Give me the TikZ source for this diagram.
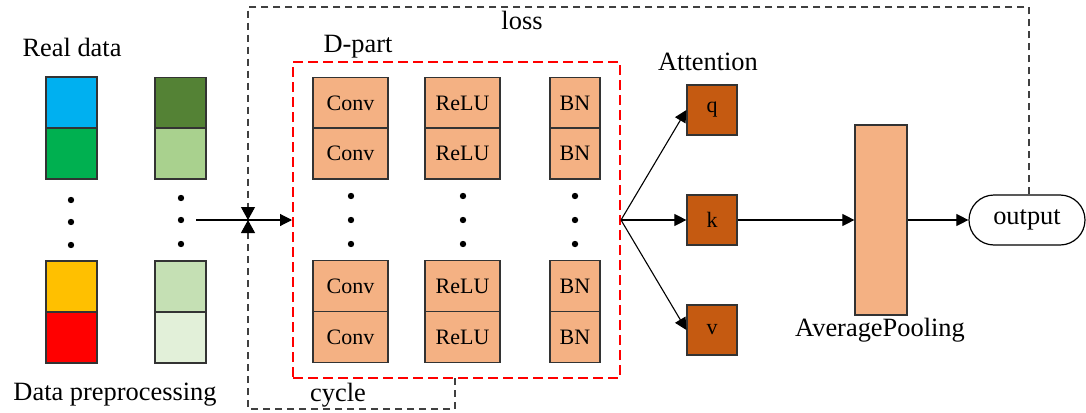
\documentclass[tikz,border=0pt]{standalone}
\usepackage{fontspec}
\setmainfont{Liberation Serif}
\usetikzlibrary{arrows.meta,calc}
\definecolor{cblue}{HTML}{00B0F0}
\definecolor{cgreen}{HTML}{00B050}
\definecolor{cyellow}{HTML}{FFC000}
\definecolor{cred}{HTML}{FF0000}
\definecolor{dgreen}{HTML}{548235}
\definecolor{lgreenA}{HTML}{A9D18E}
\definecolor{lgreenB}{HTML}{C5E0B4}
\definecolor{lgreenC}{HTML}{E2F0D9}
\definecolor{peach}{HTML}{F4B183}
\definecolor{rust}{HTML}{C55A11}
\begin{document}
\begin{tikzpicture}[x=0.5pt,y=-0.5pt,
  cell/.style={draw=black!80,line width=0.6pt,inner sep=0pt,minimum width=25.5pt,minimum height=25.5pt},
  layer/.style={draw=black!80,line width=0.6pt,inner sep=0pt,fill=peach,minimum height=25.5pt,font=\fontsize{11}{13}\selectfont},
  att/.style={draw=black!80,line width=0.6pt,inner sep=0pt,fill=rust,minimum width=25pt,minimum height=25pt,font=\fontsize{11}{13}\selectfont},
  dotn/.style={circle,fill=black,inner sep=0pt,minimum size=3.2pt},
  lab/.style={font=\fontsize{13.2}{15}\selectfont,inner sep=0pt},
  arr/.style={-{Triangle[length=6pt,width=6pt]},line width=0.55pt},
  lossline/.style={draw=black!75,line width=0.55pt,dash pattern=on 3.5pt off 2.5pt},
  jtip/.style={-{Triangle[length=6.5pt,width=7pt,color=black]}}
]
\useasboundingbox (0,0) rectangle (1086,412);

% labels
\node[lab] (treal) at (72,47) {Real data};
\node[lab] (tpre) at (115,395) {Data preprocessing};
\node[lab] (tdpart) at (358,47) {D-part};
\node[lab] (tatt) at (708,62) {Attention};
\node[lab] (tloss) at (522,20) {loss};
\node[lab] (tcycle) at (338,395) {cycle};
\node[lab] (tavg) at (880,330) {AveragePooling};

% data columns
\node[cell,fill=cblue] (a1) at (71.5,102.5) {};
\node[cell,fill=cgreen] (a2) at (71.5,153.5) {};
\node[dotn] (ad1) at (71,200) {};
\node[dotn] (ad2) at (71,222) {};
\node[dotn] (ad3) at (71,245) {};
\node[cell,fill=cyellow] (a3) at (71.5,286.5) {};
\node[cell,fill=cred] (a4) at (71.5,337.5) {};

\node[cell,fill=dgreen] (b1) at (180.5,103) {};
\node[cell,fill=lgreenA] (b2) at (180.5,153.5) {};
\node[dotn] (bd1) at (181,198) {};
\node[dotn] (bd2) at (181,220) {};
\node[dotn] (bd3) at (181,244) {};
\node[cell,fill=lgreenB] (b3) at (180.5,286.5) {};
\node[cell,fill=lgreenC] (b4) at (180.5,337.5) {};

% D-part box
\node[draw=red,line width=1pt,dash pattern=on 5pt off 2.5pt,minimum width=163.5pt,minimum height=158pt,inner sep=0pt] (dpart) at (456.5,220) {};

% layers
\foreach \n/\y in {1/103,2/153.5,3/286,4/337}{
  \node[layer,minimum width=37.5pt] (conv\n) at (350.5,\y) {Conv};
  \node[layer,minimum width=37.5pt] (relu\n) at (462.5,\y) {ReLU};
  \node[layer,minimum width=25pt] (bn\n) at (575,\y) {BN};
}
\foreach \x/\nm in {351/c,463/r,575/b}{
  \node[dotn] (\nm d1) at (\x,196) {};
  \node[dotn] (\nm d2) at (\x,220) {};
  \node[dotn] (\nm d3) at (\x,244) {};
}

% attention
\node[att] (q) at (712,110) {q};
\node[att] (k) at (712,220) {k};
\node[att] (v) at (712,330) {v};

% pooling
\node[draw=black!80,line width=0.6pt,fill=peach,minimum width=26pt,minimum height=95pt,inner sep=0pt] (pool) at (881,220) {};

% output
\node[draw=black,line width=0.6pt,rounded corners=12.5pt,minimum width=58pt,minimum height=25pt,inner sep=0pt,font=\fontsize{13.2}{15}\selectfont] (out) at (1027,220) {output};

% connectors
\coordinate (src) at (196,220);
\coordinate (J) at (248,220);
\draw[arr] (src) -- (dpart.west);
\draw[arr] (dpart.east) -- (q.west);
\draw[arr] (dpart.east) -- (k.west);
\draw[arr] (dpart.east) -- (v.west);
\draw[arr] (k.east) -- (pool.west);
\draw[arr] (pool.east) -- (out.west);

% loss and cycle
\coordinate (lossTR) at (1029,7);
\coordinate (lossTL) at (248,7);
\draw[lossline,jtip] (out.north -| lossTR) -- (lossTR) -- (lossTL) -- (J);
\coordinate (cyc0) at (455,378);
\coordinate (cycR) at (455,409);
\coordinate (cycL) at (248,409);
\draw[lossline,jtip] (cyc0) -- (cycR) -- (cycL) -- (J);
\end{tikzpicture}
\end{document}
